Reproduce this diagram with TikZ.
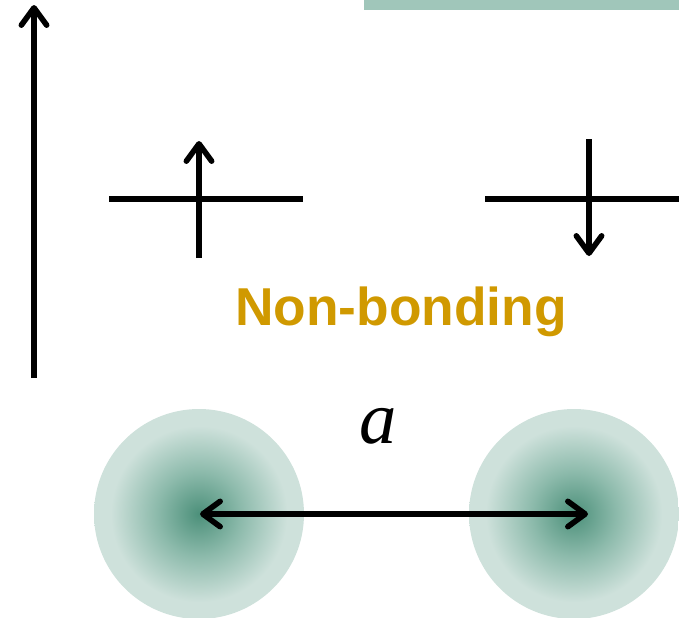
\documentclass[tikz,border=0pt]{standalone}
\usepackage{fontspec}
\setmainfont{Liberation Serif}
\newfontfamily\labelfont{Liberation Sans}
\usetikzlibrary{arrows.meta, positioning}
\definecolor{orbcore}{RGB}{76,144,122}
\definecolor{orbmid}{RGB}{140,186,171}
\definecolor{orbedge}{RGB}{206,225,219}
\definecolor{bandteal}{RGB}{160,198,186}
\definecolor{nbgold}{RGB}{208,153,0}
\pgfdeclareradialshading{orbital}{\pgfpoint{0bp}{0bp}}{%
  color(0bp)=(orbcore); color(10bp)=(orbmid); color(21bp)=(orbedge);
  color(25bp)=(orbedge); color(50bp)=(orbedge)}

\begin{document}
\begin{tikzpicture}[x=0.75pt, y=-0.75pt,
  level/.style={line width=4.2pt},
  spin/.style={line width=4.2pt, -{Straight Barb[round, length=13pt, width=19pt]}},
  bond/.style={line width=4.2pt,
    {Straight Barb[round, length=13pt, width=19pt]}-{Straight Barb[round, length=13pt, width=19pt]}}]
  \useasboundingbox (0,0) rectangle (679,618);
  % Band strip
  \fill[bandteal] (364,0) rectangle (679,10);
  % Energy axis
  \coordinate (axisbot) at (34,378);
  \coordinate (axistop) at (34,5);
  \draw[spin] (axisbot) -- (axistop);
  % Left atom level, spin up
  \coordinate (lvlLa) at (109,199);
  \coordinate (lvlLb) at (303,199);
  \draw[level] (lvlLa) -- (lvlLb);
  \coordinate (upS) at (199,258);
  \coordinate (upE) at (199,141);
  \draw[spin] (upS) -- (upE);
  % Right atom level, spin down
  \coordinate (lvlRa) at (485,199);
  \coordinate (lvlRb) at (679,199);
  \draw[level] (lvlRa) -- (lvlRb);
  \coordinate (dnS) at (589,139);
  \coordinate (dnE) at (589,256);
  \draw[spin] (dnS) -- (dnE);
  % Label
  \node[text=nbgold, anchor=base, inner sep=0pt,
    font=\labelfont\bfseries\fontsize{40}{48}\selectfont] (nonbond) at (401,325) {Non-bonding};
  % Atoms
  \coordinate (atomL) at (199,514);
  \coordinate (atomR) at (574,514);
  \shade[shading=orbital] (atomL) circle (105);
  \shade[shading=orbital] (atomR) circle (105);
  % Separation
  \coordinate (bondL) at (200,514);
  \coordinate (bondR) at (588,514);
  \draw[bond] (bondL) -- (bondR);
  \node[anchor=base, inner sep=0pt, font=\itshape\fontsize{56}{60}\selectfont] (dist) at (378,443) {a};
\end{tikzpicture}
\end{document}
